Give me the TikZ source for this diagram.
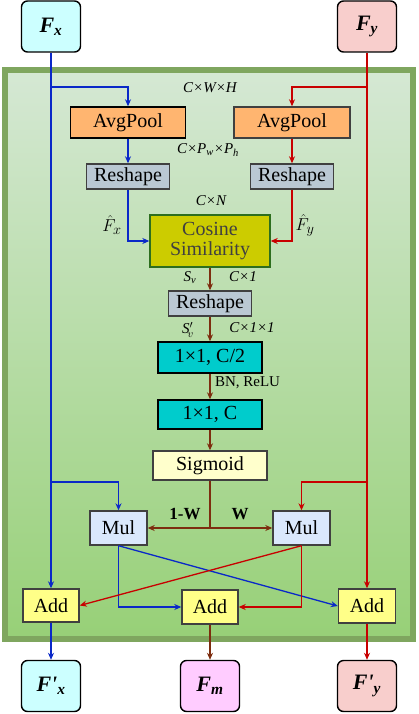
\documentclass[tikz,border=0pt]{standalone}
\usepackage{fontspec}
\setmainfont{Liberation Serif}
\usetikzlibrary{arrows.meta}
\definecolor{blu}{RGB}{10,40,200}
\definecolor{rd}{RGB}{200,0,0}
\definecolor{brn}{RGB}{125,45,15}
\definecolor{inx}{HTML}{CCFFFF}
\definecolor{iny}{HTML}{F8CECC}
\definecolor{fmf}{HTML}{FFCCFF}
\definecolor{pool}{HTML}{FFB570}
\definecolor{resh}{HTML}{BAC8D3}
\definecolor{cosf}{HTML}{CCCC00}
\definecolor{cosd}{HTML}{2D6E1E}
\definecolor{conv}{HTML}{00CCCC}
\definecolor{sigf}{HTML}{FFFFCC}
\definecolor{mulf}{HTML}{DAE8FC}
\definecolor{addf}{HTML}{FFFF88}
\definecolor{frtop}{HTML}{D5E8D4}
\definecolor{frbot}{HTML}{97D077}
\definecolor{frline}{HTML}{7FA65F}
\tikzset{
  io/.style={draw=black, rounded corners=6pt, line width=1.4pt, minimum width=59pt,
    minimum height=51pt, inner sep=0pt, font=\fontsize{22}{24}\selectfont\bfseries\itshape},
  blk/.style={draw=black!75, line width=1.4pt, inner sep=0pt, font=\fontsize{20}{22}\selectfont},
  lbl/.style={font=\fontsize{15}{17}\selectfont\itshape},
  hat/.style={font=\fontsize{19}{21}\selectfont},
  note/.style={font=\fontsize{15}{17}\selectfont},
  wgt/.style={font=\fontsize{17}{19}\selectfont\bfseries},
}
\begin{document}
\begin{tikzpicture}[x=10pt, y=-10pt, >={Stealth[length=7pt,width=6pt]}, line width=1.3pt]
\useasboundingbox (0, 0) rectangle (41.8, 71.4);
% green frame
\shade[top color=frtop, bottom color=frbot] (0.5, 7.0) rectangle (41.3, 63.9);
\draw[line width=6pt, frline] (0.5, 7.0) rectangle (41.3, 63.9);

\node[io, fill=inx]  at (5.1, 2.65) (fx) {F\textsubscript{x}};
\node[io, fill=iny]  at (36.7, 2.65) (fy) {F\textsubscript{y}};
\node[blk, fill=pool, draw=black, minimum width=115pt, minimum height=31pt] at (12.8, 12.25) (pa) {AvgPool};
\node[blk, fill=pool, minimum width=116pt, minimum height=31pt] at (29.2, 12.25) (pb) {AvgPool};
\node[blk, fill=resh, minimum width=83pt, minimum height=25pt] at (12.8, 17.65) (ra) {Reshape};
\node[blk, fill=resh, minimum width=83pt, minimum height=25pt] at (29.2, 17.65) (rb) {Reshape};
\node[blk, fill=cosf, draw=cosd, text=black!75, align=center, minimum width=120pt, minimum height=52pt] at (21, 24.1) (cs) {Cosine\\[-2pt]Similarity};
\node[blk, fill=resh, minimum width=83pt, minimum height=25pt] at (21, 30.35) (rc) {Reshape};
\node[blk, fill=conv, draw=black, minimum width=104pt, minimum height=31pt] at (21, 35.75) (c1) {1×1, C/2};
\node[blk, fill=conv, draw=black, minimum width=104pt, minimum height=29pt] at (21, 41.45) (c2) {1×1, C};
\node[blk, fill=sigf, minimum width=114pt, minimum height=29pt] at (21, 46.55) (sg) {Sigmoid};
\node[blk, fill=mulf, minimum width=57pt, minimum height=34pt] at (11.85, 52.8) (ma) {Mul};
\node[blk, fill=mulf, minimum width=57pt, minimum height=34pt] at (30.15, 52.8) (mb) {Mul};
\node[blk, fill=addf, minimum width=56pt, minimum height=33pt] at (5.1, 60.55) (aa) {Add};
\node[blk, fill=addf, minimum width=56pt, minimum height=34pt] at (21, 60.7) (ab) {Add};
\node[blk, fill=addf, minimum width=57pt, minimum height=34pt] at (36.7, 60.6) (ac) {Add};
\node[io, fill=inx]  at (5.1, 68.6) (ox) {F\textquotesingle\textsubscript{x}};
\node[io, fill=fmf]  at (21, 68.6) (om) {F\textsubscript{m}};
\node[io, fill=iny]  at (36.7, 68.6) (oy) {F\textquotesingle\textsubscript{y}};

\coordinate (bx1) at (5.1, 8.7);
\coordinate (bx2) at (5.1, 48.2);
\coordinate (ry1) at (36.7, 8.7);
\coordinate (ry2) at (36.7, 48.2);
\coordinate (sw) at (21, 52.8);

% x branch
\path[->, blu] (fx) edge (aa)
               (pa) edge (ra)
               (aa) edge (ox)
               (ma.south) edge (ac.west);
\draw[->, blu] (bx1) -| (pa);
\draw[->, blu] (ra) |- (cs);
\draw[->, blu] (bx2) -| (ma);
\draw[->, blu] (ma) |- (ab);
% y branch
\path[->, rd]  (fy) edge (ac)
               (pb) edge (rb)
               (ac) edge (oy)
               (mb.south) edge (aa.east);
\draw[->, rd] (ry1) -| (pb);
\draw[->, rd] (rb) |- (cs);
\draw[->, rd] (ry2) -| (mb);
\draw[->, rd] (mb) |- (ab);
% weights
\path[->, brn] (cs) edge (rc)
               (rc) edge (c1)
               (c1) edge (c2)
               (c2) edge (sg)
               (sw) edge (ma)
               (sw) edge (mb)
               (ab) edge (om);
\draw[brn] (sg) -- (sw);

\node[lbl]  at (21, 8.8) (d1) {C×W×H};
\node[lbl]  at (20.8, 15.0) (d2) {C×P\textsubscript{w}×P\textsubscript{h}};
\node[lbl]  at (21.1, 20.1) (d3) {C×N};
\node[hat]  at (11.2, 22.5) (hx) {$\hat{F}_x$};
\node[hat]  at (30.5, 22.5) (hy) {$\hat{F}_y$};
\node[lbl]  at (19.0, 27.8) (sv) {S\textsubscript{v}};
\node[lbl]  at (24.3, 27.7) (d4) {C×1};
\node[lbl]  at (18.8, 33.0) (sp) {S$'_{\!v}$};
\node[lbl]  at (25.2, 32.8) (d5) {C×1×1};
\node[note] at (24.75, 38.3) (bn) {BN, ReLU};
\node[wgt]  at (18.5, 51.4) (w1) {1-W};
\node[wgt]  at (24.0, 51.4) (w2) {W};
\end{tikzpicture}
\end{document}
